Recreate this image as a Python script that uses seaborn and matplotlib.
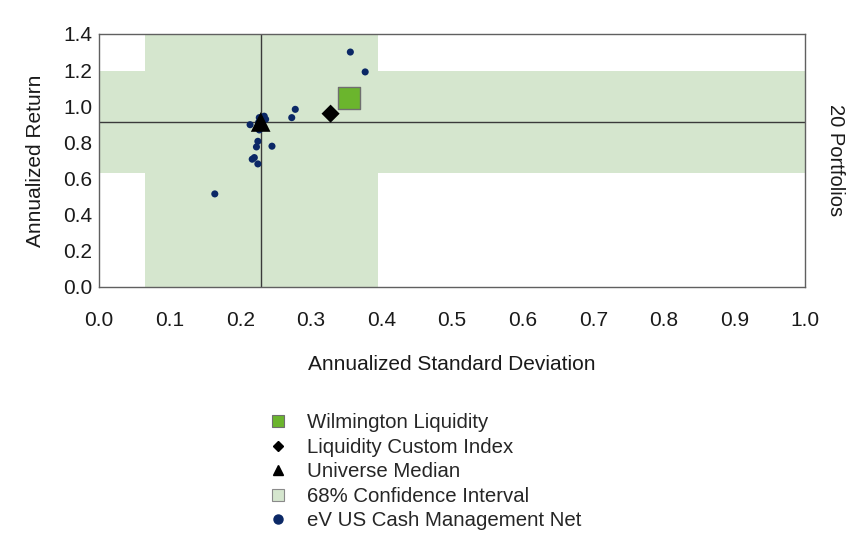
import matplotlib
matplotlib.use("Agg")
import matplotlib.pyplot as plt
from matplotlib.lines import Line2D
import seaborn as sns
import pandas as pd

# Universe portfolios: annualized standard deviation / annualized return
universe_sd = [0.356, 0.377, 0.278, 0.273, 0.227, 0.234, 0.236, 0.214, 0.227,
               0.225, 0.223, 0.245, 0.220, 0.217, 0.225, 0.164,
               0.229, 0.231, 0.226, 0.232]
universe_ret = [1.30, 1.19, 0.983, 0.937, 0.937, 0.945, 0.928, 0.898, 0.869,
                0.806, 0.775, 0.779, 0.716, 0.707, 0.681, 0.515,
                0.915, 0.905, 0.910, 0.920]

# Highlighted series
portfolio_sd, portfolio_ret = [0.354], [1.048]
index_sd, index_ret = [0.328], [0.959]
median_sd, median_ret = [0.229], [0.913]

# 68% confidence ranges
ci_sd = [0.065, 0.395]
ci_ret = [0.631, 1.195]

x_ticks = [0.0, 0.1, 0.2, 0.3, 0.4, 0.5, 0.6, 0.7, 0.8, 0.9, 1.0]
y_ticks = [0.0, 0.2, 0.4, 0.6, 0.8, 1.0, 1.2, 1.4]

legend_labels = ["Wilmington Liquidity", "Liquidity Custom Index", "Universe Median",
                 "68% Confidence Interval", "eV US Cash Management Net"]

sns.set_style("white")
plt.rcParams["font.family"] = ["Liberation Sans", "DejaVu Sans"]
narrow = ["Liberation Sans Narrow", "Liberation Sans", "DejaVu Sans"]

band_color = "#d5e6ce"
navy = "#0b2866"
green = "#6bb52d"

fig = plt.figure(figsize=(8.67, 5.35), dpi=100)
ax = fig.add_axes([0.1142, 0.4636, 0.8143, 0.4729])

ax.axvspan(ci_sd[0], ci_sd[1], color=band_color, lw=0, zorder=0)
ax.axhspan(ci_ret[0], ci_ret[1], color=band_color, lw=0, zorder=0)
ax.axvline(median_sd[0], color="#3a3a3a", lw=1.0, zorder=1)
ax.axhline(median_ret[0], color="#3a3a3a", lw=1.0, zorder=1)

df_u = pd.DataFrame({"sd": universe_sd, "ret": universe_ret})
sns.scatterplot(data=df_u, x="sd", y="ret", ax=ax, color=navy, s=26,
                edgecolor="none", zorder=3)
sns.scatterplot(x=median_sd, y=median_ret, ax=ax, marker="^", color="black",
                s=200, edgecolor="none", zorder=4)
sns.scatterplot(x=index_sd, y=index_ret, ax=ax, marker="D", color="black",
                s=85, edgecolor="none", zorder=4)
sns.scatterplot(x=portfolio_sd, y=portfolio_ret, ax=ax, marker="s", color=green,
                s=230, edgecolor="#6f6f6f", linewidth=1.0, zorder=5)

ax.set_xlim(0, 1.0)
ax.set_ylim(0, 1.4)
ax.set_xticks(x_ticks)
ax.set_yticks(y_ticks)
ax.set_xticklabels([f"{v:.1f}" for v in x_ticks], fontfamily=narrow, fontsize=15)
ax.set_yticklabels([f"{v:.1f}" for v in y_ticks], fontfamily=narrow, fontsize=15)
ax.tick_params(axis="both", direction="in", length=5, width=1, color="#8a8a8a",
               labelcolor="#1a1a1a")
ax.tick_params(axis="x", pad=17)
ax.tick_params(axis="y", pad=5)
for sp in ax.spines.values():
    sp.set_color("#606060")
    sp.set_linewidth(1.0)

ax.set_xlabel("Annualized Standard Deviation", fontfamily=narrow, fontsize=15,
              color="#1a1a1a", labelpad=18)
ax.set_ylabel("Annualized Return", fontfamily=narrow, fontsize=15,
              color="#1a1a1a", labelpad=13)
ax.text(1.043, 0.5, "20 Portfolios", transform=ax.transAxes, rotation=-90,
        ha="center", va="center", fontsize=14.5, color="#1a1a1a")

handles = [
    Line2D([], [], ls="none", marker="s", markersize=8, markerfacecolor=green,
           markeredgecolor="#6f6f6f", markeredgewidth=0.8),
    Line2D([], [], ls="none", marker="D", markersize=5.5, markerfacecolor="black",
           markeredgecolor="black"),
    Line2D([], [], ls="none", marker="^", markersize=7, markerfacecolor="black",
           markeredgecolor="black"),
    Line2D([], [], ls="none", marker="s", markersize=8, markerfacecolor=band_color,
           markeredgecolor="#8a8a8a", markeredgewidth=0.8),
    Line2D([], [], ls="none", marker="o", markersize=6.5, markerfacecolor=navy,
           markeredgecolor=navy),
]
fig.legend(handles, legend_labels, loc="upper left", bbox_to_anchor=(0.2994, 0.243),
           frameon=False, fontsize=14.7, handlelength=1.0, handletextpad=0.92,
           labelspacing=0.27, borderaxespad=0)

fig.savefig("out.png", dpi=100)
